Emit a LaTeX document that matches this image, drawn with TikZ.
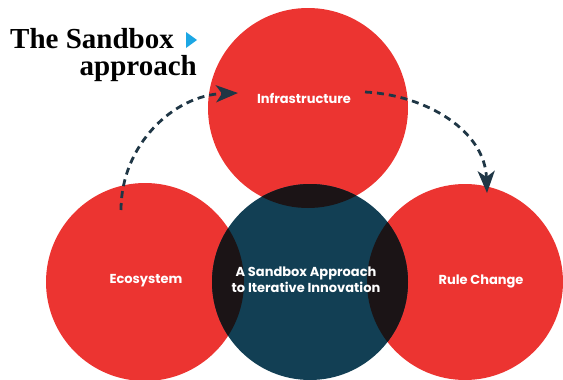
\documentclass[tikz,border=0pt]{standalone}
\usepackage{fontspec}
\setmainfont{Liberation Serif}
\newfontfamily\circfont{Poppins}
\usetikzlibrary{arrows.meta}
\definecolor{sandred}{HTML}{EC3431}
\definecolor{sandteal}{HTML}{123F54}
\definecolor{overlap}{HTML}{1B1416}
\definecolor{arrowdark}{HTML}{1F3645}
\definecolor{pointer}{HTML}{1CA7E4}
\tikzset{
  every picture/.style={line join=round, >=Stealth},
  circlabel/.style={text=white, font=\circfont\bfseries\fontsize{13}{16}\selectfont, align=center},
  flow/.style={draw=arrowdark, line width=2.8pt, dash pattern=on 7pt off 5pt,
    -{Stealth[length=22pt,width=17pt,inset=6pt]}},
  headline/.style={font=\bfseries\fontsize{29}{30}\selectfont, inner sep=0pt},
}

\begin{document}
\begin{tikzpicture}[x=1pt,y=-1pt]
\useasboundingbox (0,0) rectangle (563,380);
\clip (0,0) rectangle (563,380);
\coordinate (infra) at (308,108);
\coordinate (eco) at (145,282);
\coordinate (rule) at (465,282);
\coordinate (core) at (310,282);
% the four circles, overlaps in black
\fill[sandred] (infra) circle (100) (eco) circle (99) (rule) circle (98);
\fill[sandteal] (core) circle (98);
\begin{scope}
\clip (core) circle (98);
\fill[overlap] (infra) circle (100) (eco) circle (99) (rule) circle (98);
\end{scope}
\node[circlabel] (infraText) at (304,98) {Infrastructure};
\node[circlabel] (ecoText) at (146,281) {Ecosystem};
\node[circlabel] (coreText) at (306,280) {A Sandbox Approach\\to Iterative Innovation};
\node[circlabel] (ruleText) at (481,281) {Rule Change};
% dashed arrows
\coordinate (ecoStart) at (121,210);
\coordinate (infraIn) at (238,93);
\coordinate (infraOut) at (365,92);
\coordinate (ruleIn) at (487,193);
\draw[flow] (ecoStart) to[out=90,in=182] (infraIn);
\draw[flow] (infraOut) to[out=-3,in=92] (ruleIn);
% heading
\node[headline, anchor=base east] (titleTop) at (174,48) {The Sandbox};
\node[headline, anchor=base east] (titleBottom) at (197,75) {approach};
\fill[pointer] (186,32) -- (197,40) -- (186,48) -- cycle;
\end{tikzpicture}
\end{document}
